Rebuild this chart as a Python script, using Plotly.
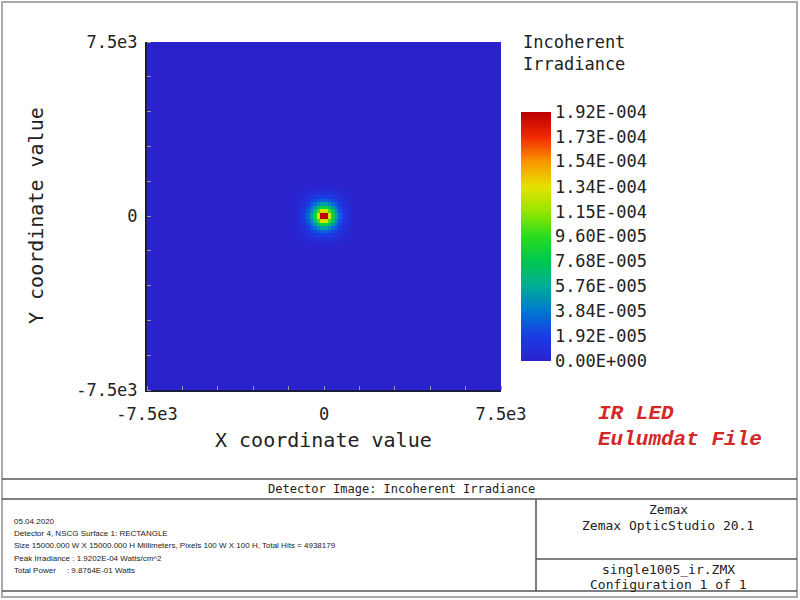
import numpy as np
import plotly.graph_objects as go

# ---------------- data ----------------
n_pixels = 100
detector_half_mm = 7500.0
peak_irradiance = 1.9202e-4
background_irr = 0.0
# irradiance around the centre (units 1e-5 W/cm^2), quadrant: row = y pixel offset, col = x pixel offset
spot_quadrant = [
    [19.2, 13.0, 8.5, 5.2, 3.2, 1.9, 1.1, 0.60],
    [13.0, 10.0, 6.8, 4.4, 2.8, 1.7, 1.0, 0.55],
    [8.5, 6.8, 5.0, 3.5, 2.3, 1.4, 0.85, 0.50],
    [5.2, 4.4, 3.5, 2.6, 1.8, 1.1, 0.70, 0.40],
    [3.2, 2.8, 2.3, 1.8, 1.3, 0.85, 0.55, 0.30],
    [1.9, 1.7, 1.4, 1.1, 0.85, 0.60, 0.40, 0.22],
    [1.1, 1.0, 0.85, 0.7, 0.55, 0.40, 0.25, 0.15],
    [0.6, 0.55, 0.5, 0.4, 0.3, 0.22, 0.15, 0.08],
]
cbar_tickvals = [0.0, 1.92e-5, 3.84e-5, 5.76e-5, 7.68e-5, 9.60e-5,
                 1.15e-4, 1.34e-4, 1.54e-4, 1.73e-4, 1.92e-4]
cbar_ticktext = ["0.00E+000", "1.92E-005", "3.84E-005", "5.76E-005", "7.68E-005",
                 "9.60E-005", "1.15E-004", "1.34E-004", "1.54E-004", "1.73E-004", "1.92E-004"]
axis_tickvals = [-7500, 0, 7500]
axis_ticktext = ["-7.5e3", "0", "7.5e3"]

info_lines = [
    "05.04.2020",
    "Detector 4, NSCG Surface 1: RECTANGLE",
    "Size 15000.000 W X 15000.000 H Millimeters, Pixels 100 W X 100 H, Total Hits = 4938179",
    "Peak Irradiance : 1.9202E-04 Watts/cm^2",
    "Total Power &nbsp;&nbsp;&nbsp;&nbsp;: 9.8764E-01 Watts",
]

# ---------------- build grid ----------------
q = np.array(spot_quadrant) * 1e-5
k = q.shape[0]
z = np.full((n_pixels, n_pixels), background_irr)
c = n_pixels // 2
z[c:c + k, c:c + k] = q
z[c - k:c, c:c + k] = q[::-1, :]
z[c:c + k, c - k:c] = q[:, ::-1]
z[c - k:c, c - k:c] = q[::-1, ::-1]
pix = 2 * detector_half_mm / n_pixels

colorscale = [
    [0.0, "rgb(42,34,204)"],
    [0.1, "rgb(25,60,228)"],
    [0.2, "rgb(0,120,210)"],
    [0.3, "rgb(0,172,150)"],
    [0.4, "rgb(0,200,80)"],
    [0.5, "rgb(40,220,30)"],
    [0.6, "rgb(150,230,0)"],
    [0.7, "rgb(230,225,0)"],
    [0.8, "rgb(250,150,0)"],
    [0.9, "rgb(240,40,0)"],
    [1.0, "rgb(185,0,0)"],
]

MONO = "DejaVu Sans Mono"

fig = go.Figure()
fig.add_trace(go.Heatmap(
    z=z, x0=-detector_half_mm + pix / 2, dx=pix, y0=-detector_half_mm + pix / 2, dy=pix,
    zmin=0, zmax=peak_irradiance, colorscale=colorscale, zsmooth=False,
    colorbar=dict(
        x=521 / 800, xanchor="left", xpad=0, ypad=0,
        y=1 - 361 / 600, yanchor="bottom", len=(361 - 112) / 600, lenmode="fraction",
        thickness=30, thicknessmode="pixels", outlinewidth=0,
        tickvals=cbar_tickvals, ticktext=cbar_ticktext, ticks="",
        tickfont=dict(family=MONO, size=17, color="#222"),
    ),
    hoverinfo="skip",
))

axis_common = dict(
    range=[-detector_half_mm, detector_half_mm], tickmode="array",
    tickvals=axis_tickvals, ticktext=axis_ticktext, automargin=False,
    showgrid=False, zeroline=False, ticks="",
    tickfont=dict(family=MONO, size=17, color="#222"),
    showline=True, linecolor="#1a1a3a", linewidth=2,
    minor=dict(tickmode="linear", tick0=-7500, dtick=1500, ticks="inside",
               ticklen=4, tickcolor="#999", tickwidth=1),
)

fig.update_layout(
    width=800, height=600,
    margin=dict(l=0, r=0, t=0, b=0, pad=0, autoexpand=False),
    paper_bgcolor="white", plot_bgcolor="white",
    xaxis=dict(domain=[147 / 800, 501 / 800], ticklabelstandoff=8, **axis_common),
    yaxis=dict(domain=[1 - 390 / 600, 1 - 42 / 600], ticklabelstandoff=4, **axis_common),
    showlegend=False,
)

ann = []
def add_text(x, y, text, size, xanchor="center", yanchor="middle", color="#222",
             family=MONO, angle=0):
    ann.append(dict(x=x / 800, y=1 - y / 600, xref="paper", yref="paper", text=text,
                    showarrow=False, xanchor=xanchor, yanchor=yanchor, textangle=angle,
                    font=dict(family=family, size=size, color=color), align="left"))

add_text(323, 440, "X coordinate value", 20)
add_text(36, 216, "Y coordinate value", 20, angle=-90)
add_text(521, 42, "Incoherent", 17, xanchor="left")
add_text(521, 64, "Irradiance", 17, xanchor="left")
add_text(596, 414, "<b><i>IR LED</i></b>", 21, xanchor="left", color="rgb(210,40,40)",
         family="Liberation Mono")
add_text(596, 440, "<b><i>Eulumdat File</i></b>", 21, xanchor="left", color="rgb(210,40,40)",
         family="Liberation Mono")
add_text(402, 489, "Detector Image: Incoherent Irradiance", 12)
info_y = [521, 533, 545, 558, 570]
for yy, t in zip(info_y, info_lines):
    add_text(12, yy, t, 8, xanchor="left", family="Liberation Sans")
add_text(668, 509, "Zemax", 13)
add_text(668, 525, "Zemax OpticStudio 20.1", 13)
add_text(668, 569, "single1005_ir.ZMX", 13)
add_text(668, 584, "Configuration 1 of 1", 13)
fig.update_layout(annotations=ann)

shapes = []
def line(x0, y0, x1, y1, color="#555", width=1.5):
    shapes.append(dict(type="line", xref="paper", yref="paper",
                       x0=x0 / 800, y0=1 - y0 / 600, x1=x1 / 800, y1=1 - y1 / 600,
                       line=dict(color=color, width=width)))

# outer frame
shapes.append(dict(type="rect", xref="paper", yref="paper", x0=2 / 800, y0=1 - 597 / 600,
                   x1=797 / 800, y1=1 - 2 / 600, line=dict(color="#aaa", width=2)))
line(2, 479, 797, 479)
line(2, 499, 797, 499)
line(2, 591, 797, 591)
line(536, 499, 536, 591)
line(536, 559, 797, 559)
fig.update_layout(shapes=shapes)

fig.write_html("out.html", config={"displayModeBar": False},
               post_script="document.body.style.margin='0';document.body.style.overflow='hidden';")
